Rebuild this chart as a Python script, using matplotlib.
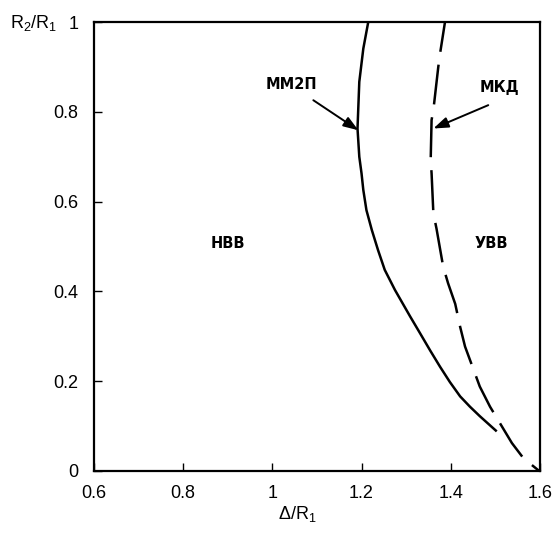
"""Boundary curves R2/R1 vs Delta/R1 (ММ2П and МКД)."""

import matplotlib
matplotlib.use("Agg")
import matplotlib.pyplot as plt

plt.rcParams["font.family"] = ["Liberation Sans", "DejaVu Sans"]
plt.rcParams["mathtext.fontset"] = "custom"
plt.rcParams["mathtext.rm"] = "Liberation Sans"
plt.rcParams["mathtext.default"] = "regular"

# ММ2П boundary (solid)
mm2p_x = [1.215, 1.204, 1.195, 1.191, 1.195, 1.200, 1.204, 1.211, 1.223,
          1.237, 1.252, 1.275, 1.309, 1.331, 1.354, 1.376, 1.398, 1.421,
          1.443, 1.465, 1.503]
mm2p_y = [1.0, 0.941, 0.867, 0.763, 0.700, 0.663, 0.626, 0.581, 0.537,
          0.492, 0.448, 0.403, 0.344, 0.307, 0.268, 0.232, 0.198, 0.166,
          0.143, 0.122, 0.088]

# МКД boundary (dashed)
mkd_x = [1.387, 1.376, 1.372, 1.361, 1.357, 1.355, 1.357, 1.361, 1.368,
         1.383, 1.394, 1.410, 1.421, 1.432, 1.465, 1.488, 1.537, 1.563, 1.598]
mkd_y = [1.0, 0.930, 0.900, 0.804, 0.782, 0.693, 0.663, 0.574, 0.540,
         0.455, 0.418, 0.372, 0.321, 0.277, 0.188, 0.143, 0.062, 0.028, 0.0]

x_ticks = [0.6, 0.8, 1.0, 1.2, 1.4, 1.6]
x_tick_labels = ["0.6", "0.8", "1", "1.2", "1.4", "1.6"]
y_ticks = [0, 0.2, 0.4, 0.6, 0.8, 1.0]
y_tick_labels = ["0", "0.2", "0.4", "0.6", "0.8", "1"]

fig = plt.figure(figsize=(5.55, 5.4), dpi=100)
ax = fig.add_axes([0.169, 0.128, 0.804, 0.831])

ax.plot(mm2p_x, mm2p_y, color="black", lw=1.8, solid_capstyle="butt",
        solid_joinstyle="round")
ax.plot(mkd_x, mkd_y, color="black", lw=1.8, linestyle=(4, (16, 5.2)),
        dash_capstyle="butt")

ax.set_xlim(0.6, 1.6)
ax.set_ylim(0, 1)
ax.set_xticks(x_ticks, x_tick_labels)
ax.set_yticks(y_ticks, y_tick_labels)
ax.tick_params(direction="in", length=6, width=1, labelsize=13,
               top=False, right=False)
ax.tick_params(axis="x", pad=10)
ax.tick_params(axis="y", pad=11)
for sp in ax.spines.values():
    sp.set_linewidth(1.6)

ax.set_xlabel("Δ/R$_1$", fontsize=13)
ax.xaxis.set_label_coords(0.455, -0.074)
fig.text(0.018, 0.957, "R$_2$/R$_1$", fontsize=13, va="center", ha="left")

bold = dict(fontsize=10.5, fontweight="bold", family="DejaVu Sans",
            ha="center", va="center")
ax.text(0.901, 0.507, "НВВ", **bold)
ax.text(1.490, 0.507, "УВВ", **bold)
ax.text(1.043, 0.860, "ММ2П", **bold)
ax.text(1.510, 0.855, "МКД", **bold)

arrow = dict(arrowstyle="-|>,head_length=0.9,head_width=0.32", color="black",
             lw=1.4, shrinkA=0, shrinkB=0)
ax.annotate("", xy=(1.193, 0.759), xytext=(1.092, 0.826), arrowprops=arrow)
ax.annotate("", xy=(1.361, 0.763), xytext=(1.484, 0.815), arrowprops=arrow)

fig.savefig("out.png", dpi=100)
